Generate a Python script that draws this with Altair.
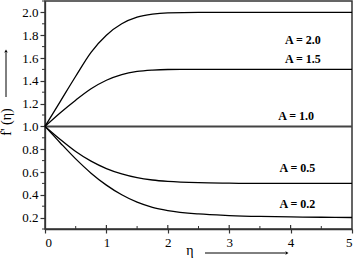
import altair as alt
import pandas as pd

eta = [0, 0.25, 0.5, 0.75, 1.0, 1.25, 1.5, 1.75, 2.0, 2.5, 3.0, 3.5, 4.0, 4.5, 5.0]
f_A20 = [1.0, 1.22, 1.44, 1.65, 1.80, 1.90, 1.958, 1.985, 1.996, 2.0, 2.0, 2.0, 2.0, 2.0, 2.0]
f_A15 = [1.0, 1.12, 1.23, 1.33, 1.405, 1.455, 1.482, 1.494, 1.499, 1.5, 1.5, 1.5, 1.5, 1.5, 1.5]
f_A10 = [1.0] * 15
f_A05 = [1.0, 0.885, 0.78, 0.695, 0.63, 0.583, 0.55, 0.53, 0.518, 0.506, 0.502, 0.5, 0.5, 0.5, 0.5]
f_A02 = [1.0, 0.855, 0.715, 0.59, 0.485, 0.40, 0.335, 0.29, 0.262, 0.232, 0.218, 0.21, 0.206, 0.203, 0.201]

series_names = ["A = 2.0", "A = 1.5", "A = 1.0", "A = 0.5", "A = 0.2"]
series_vals = [f_A20, f_A15, f_A10, f_A05, f_A02]

label_eta = [4.2, 4.2, 4.09, 4.11, 4.11]
label_f = [1.758, 1.591, 1.091, 0.635, 0.319]

y_major = [0.2, 0.4, 0.6, 0.8, 1.0, 1.2, 1.4, 1.6, 1.8, 2.0]
y_minor = [0.1, 0.3, 0.5, 0.7, 0.9, 1.1, 1.3, 1.5, 1.7, 1.9, 2.1]
x_major = [0, 1, 2, 3, 4, 5]
x_minor = [0.5, 1.5, 2.5, 3.5, 4.5]

rows = []
for name, vals in zip(series_names, series_vals):
    for e, v in zip(eta, vals):
        rows.append({"series": name, "eta": e, "f": v})
df = pd.DataFrame(rows)

FONT = "Liberation Serif"
AX_COLOR = "#333333"

xscale = alt.Scale(domain=[0, 5], nice=False, zero=False)
yscale = alt.Scale(domain=[0.1, 2.1], nice=False, zero=False)
xaxis = alt.Axis(values=x_major, format="d", tickSize=4, labelPadding=3, title=None,
                 grid=False, labelFont=FONT, labelFontSize=13, labelColor="black",
                 domainColor=AX_COLOR, tickColor=AX_COLOR, domainWidth=1.3, tickWidth=1.2)
yaxis = alt.Axis(values=y_major, format=".1f", tickSize=5, labelPadding=2, title=None,
                 grid=False, labelFont=FONT, labelFontSize=13, labelColor="black",
                 domainColor=AX_COLOR, tickColor=AX_COLOR, domainWidth=1.3, tickWidth=1.2)


def X():
    return alt.X("eta:Q", scale=xscale, axis=xaxis)


def Y():
    return alt.Y("f:Q", scale=yscale, axis=yaxis)


curves = alt.Chart(df[df.series != "A = 1.0"]).mark_line(
    color="black", strokeWidth=1.3, interpolate="monotone"
).encode(x=X(), y=Y(), detail="series:N")

flat = alt.Chart(df[df.series == "A = 1.0"]).mark_line(
    color="#444444", strokeWidth=2
).encode(x=X(), y=Y())

lab_df = pd.DataFrame({"eta": label_eta, "f": label_f, "label": series_names})
labels = alt.Chart(lab_df).mark_text(
    font=FONT, fontSize=12, fontWeight="bold", color="black", align="center", baseline="middle"
).encode(x=X(), y=Y(), text="label:N")

ymin_df = pd.DataFrame({"f": y_minor})
y_minor_ticks = alt.Chart(ymin_df).mark_rule(color=AX_COLOR, strokeWidth=1).encode(
    y=Y(), x=alt.value(-3), x2=alt.value(0)
)

xmin_df = pd.DataFrame({"eta": x_minor})
x_minor_ticks = alt.Chart(xmin_df).mark_rule(color=AX_COLOR, strokeWidth=1).encode(
    x=X(), y=alt.value(225), y2=alt.value(228)
)
xmaj_df = pd.DataFrame({"eta": x_major[1:-1]})
x_major_in = alt.Chart(xmaj_df).mark_rule(color=AX_COLOR, strokeWidth=1.2).encode(
    x=X(), y=alt.value(224), y2=alt.value(228)
)

one = pd.DataFrame({"k": [0]})
ytitle = alt.Chart(one).mark_text(
    text="f' (η)", font=FONT, fontSize=14, angle=270, color="black", align="center", baseline="middle"
).encode(x=alt.value(-38), y=alt.value(121))
yarrow = alt.Chart(one).mark_rule(color="black", strokeWidth=1).encode(
    x=alt.value(-39), y=alt.value(96), y2=alt.value(52)
)
yhead = alt.Chart(one).mark_point(shape="triangle-up", filled=True, color="black", size=12, opacity=1).encode(
    x=alt.value(-39), y=alt.value(50)
)
xtitle = alt.Chart(one).mark_text(
    text="η", font=FONT, fontSize=14, color="black", align="center", baseline="middle"
).encode(x=alt.value(145), y=alt.value(250))
xarrow = alt.Chart(one).mark_rule(color="black", strokeWidth=1).encode(
    x=alt.value(160), x2=alt.value(240), y=alt.value(252)
)
xhead = alt.Chart(one).mark_point(shape="triangle-right", filled=True, color="black", size=12, opacity=1).encode(
    x=alt.value(242), y=alt.value(252)
)

chart = alt.layer(
    flat, curves, labels, y_minor_ticks, x_minor_ticks, x_major_in,
    ytitle, yarrow, yhead, xtitle, xarrow, xhead
).properties(
    width=307, height=228,
    autosize=alt.AutoSizeParams(type="none"),
    padding={"left": 45, "top": 1, "right": 2, "bottom": 35},
    background="white",
).configure_view(stroke=AX_COLOR, strokeWidth=1.5)

chart.save("out.html", embed_options={"renderer": "svg", "actions": False})
